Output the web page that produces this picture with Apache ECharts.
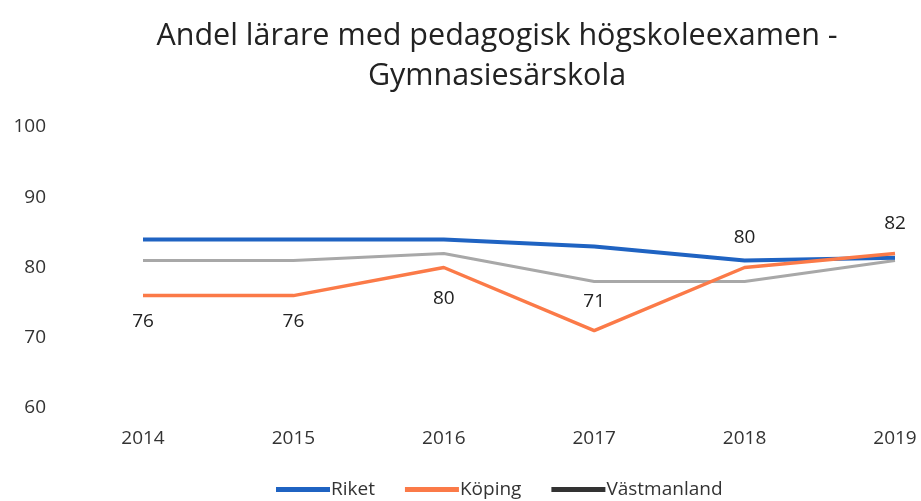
<!DOCTYPE html>
<html>
<head>
    <meta charset="UTF-8">
    <title>Andel lärare med pedagogisk högskoleexamen</title>
    <style>
        html, body { margin: 0; padding: 0; background: #fff; }
        #main { width: 921px; height: 501px; }
    </style>
</head>
<body>
<div id="main"></div>
<script src="https://cdn.jsdelivr.net/npm/echarts@6/dist/echarts.min.js"></script>
<script>
    // kategorier och värden
    var years = ['2014', '2015', '2016', '2017', '2018', '2019'];
    var riket = [84, 84, 84, 83, 81, 81.4];
    var koping = [76, 76, 80, 71, 80, 82];
    var vastmanland = [81, 81, 82, 78, 78, 81];
    // etikettplacering för Köping: under eller över punkten
    var kopingLabelPos = ['bottom', 'bottom', 'bottom', 'top', 'top', 'top'];
    var kopingLabelDist = [16, 16, 22, 20, 20, 20];

    var kopingData = [];
    for (var i = 0; i < koping.length; i++) {
        kopingData.push({
            value: koping[i],
            label: { position: kopingLabelPos[i], distance: kopingLabelDist[i] }
        });
    }

    var myChart = echarts.init(document.getElementById('main'));
    var option = {
        animation: false,
        title: {
            text: 'Andel lärare med pedagogisk högskoleexamen -\nGymnasiesärskola',
            left: 492,
            textAlign: 'center',
            top: 11,
            textStyle: {
                fontFamily: 'Open Sans',
                fontSize: 30.5,
                fontWeight: 'normal',
                color: '#222',
                lineHeight: 40
            }
        },
        legend: {
            bottom: -3,
            left: 271,
            icon: 'rect',
            itemWidth: 54,
            itemHeight: 5,
            itemGap: 30,
            textStyle: { fontFamily: 'Open Sans', fontSize: 19, color: '#333', padding: [0, 0, 0, -4] },
            data: [
                { name: 'Riket' },
                { name: 'Köping' },
                { name: 'Västmanland', itemStyle: { color: '#333' } }
            ]
        },
        grid: { left: 143, right: 26, top: 127, bottom: 93 },
        xAxis: {
            type: 'category',
            data: years,
            boundaryGap: false,
            axisLine: { show: false },
            axisTick: { show: false },
            axisLabel: { fontFamily: 'Open Sans', fontSize: 19, color: '#333', margin: 21 }
        },
        yAxis: {
            type: 'value',
            min: 60,
            max: 100,
            interval: 10,
            splitLine: { show: false },
            axisLabel: { fontFamily: 'Open Sans', fontSize: 19, color: '#333', margin: 97 }
        },
        series: [
            {
                name: 'Riket',
                type: 'line',
                data: riket,
                symbol: 'circle',
                symbolSize: 0,
                color: '#1F63C2',
                lineStyle: { width: 4, color: '#1F63C2' }
            },
            {
                name: 'Köping',
                type: 'line',
                data: kopingData,
                symbol: 'circle',
                symbolSize: 0,
                color: '#FB7A48',
                lineStyle: { width: 3.5, color: '#FB7A48' },
                label: {
                    show: true,
                    fontFamily: 'Open Sans',
                    fontSize: 19,
                    color: '#222'
                },
                z: 3
            },
            {
                name: 'Västmanland',
                type: 'line',
                data: vastmanland,
                symbol: 'circle',
                symbolSize: 0,
                color: '#A8A8A8',
                lineStyle: { width: 3, color: '#A8A8A8' },
                z: 1
            }
        ]
    };
    myChart.setOption(option);
</script>
</body>
</html>
